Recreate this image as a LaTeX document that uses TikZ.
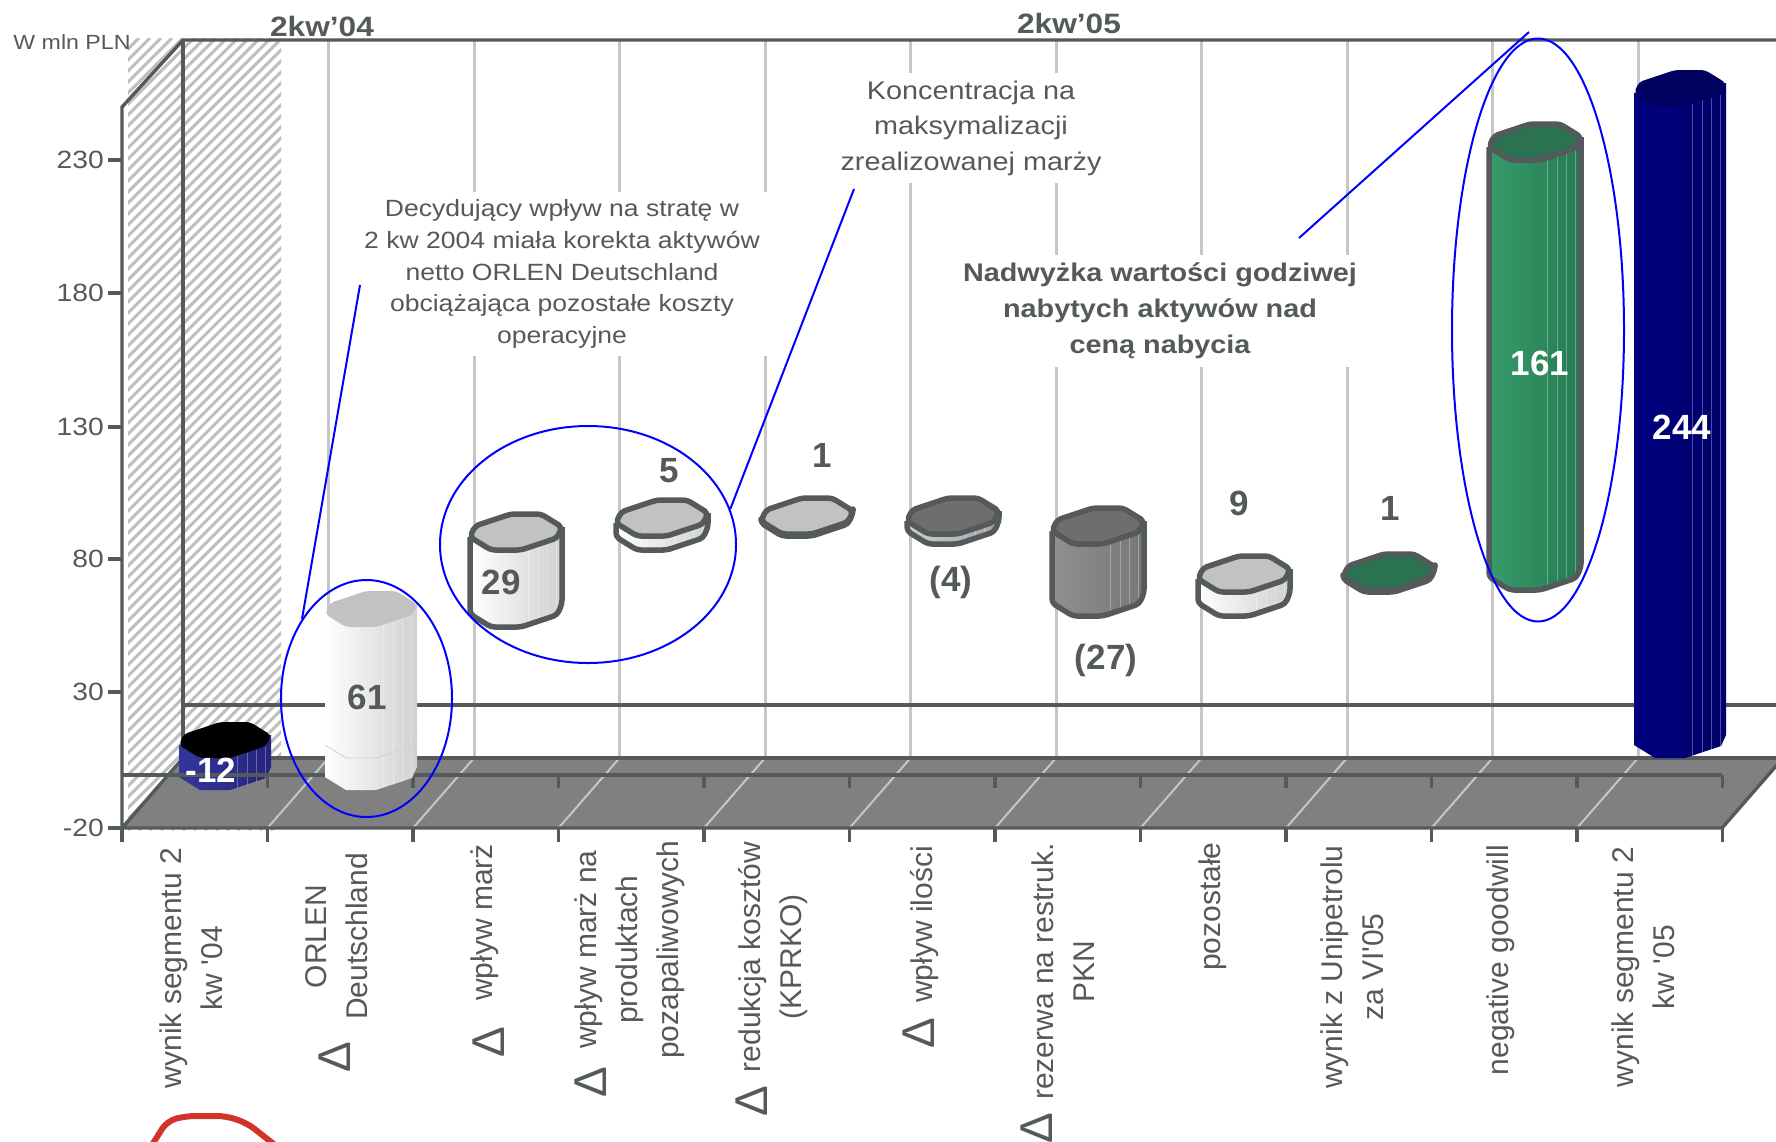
\documentclass[tikz,border=0pt]{standalone}
\usepackage{fontspec}
\setmainfont{Liberation Sans}
\newfontfamily\widefont[FakeStretch=1.13]{Liberation Sans}
\usetikzlibrary{shapes.geometric}
\usepackage{xcolor}
\definecolor{slate}{HTML}{54595C}
\definecolor{gridgray}{HTML}{C6C6C6}
\definecolor{floorgray}{HTML}{808080}
\definecolor{hatchgray}{HTML}{BEBEBE}
\definecolor{topgray}{HTML}{C2C2C2}
\definecolor{sideR}{HTML}{D0D0D0}
\definecolor{darktop}{HTML}{6E6E6E}
\definecolor{sliverL}{HTML}{CCCCCC}
\definecolor{sliverR}{HTML}{A4A4A4}
\definecolor{midgrayL}{HTML}{909090}
\definecolor{midgrayR}{HTML}{777777}
\definecolor{barblueL}{HTML}{34349C}
\definecolor{barblueR}{HTML}{25257E}
\definecolor{greenL}{HTML}{369C6A}
\definecolor{greenR}{HTML}{277A52}
\definecolor{greentop}{HTML}{2B7350}
\definecolor{navyL}{HTML}{000080}
\definecolor{navyR}{HTML}{00006A}
\definecolor{navytop}{HTML}{000060}
\definecolor{redmark}{HTML}{D0332A}

\begin{document}
\begin{tikzpicture}[x=1pt,y=-1pt,
    axisln/.style={draw=slate,line width=3.4pt},
    gridln/.style={draw=gridgray,line width=3pt},
    floorln/.style={draw=gridgray,line width=2pt},
    note/.style={fill=white,align=center,text=slate,inner sep=8pt},
    catlab/.style={rotate=90,align=center,text=slate,
      font=\fontsize{30}{41}\selectfont},
    deltalab/.style={rotate=90,text=slate,inner sep=0,
      font=\fontsize{46}{46}\selectfont},
    ylab/.style={anchor=east,text=slate,inner sep=0,
      font=\widefont\fontsize{25}{25}\selectfont},
    vallab/.style={text=slate,inner sep=0,
      font=\bfseries\fontsize{35}{35}\selectfont},
    callout/.style={draw=blue,line width=2pt}]

      \useasboundingbox (0,0) rectangle (1776,1141);
      \clip (0,0) rectangle (1776,1141);

      % hatched 2kw'04 band
      \begin{scope}
        \clip (128,38) rectangle (281,830);
        \foreach \k in {-664,-653,...,281}
          \draw[hatchgray,line width=2.9pt] (\k,830) -- ++(792,-792);
      \end{scope}

      % back wall grid
      \foreach \i in {1,...,10}
        \draw[gridln] ({183+145.5*\i},40) -- ({183+145.5*\i},758);

      % floor
      \fill[floorgray] (122,828) -- (1722,828) -- (1783,758) -- (183,758) -- cycle;
      \foreach \i in {1,...,10}
        \draw[floorln] ({122+145.5*\i},828) -- ++(61,-70);

      % walls and axes
      \draw[axisln,line join=round] (122,842) -- (122,107) -- (183,40) -- (1776,40);
      \draw[axisln] (183,40) -- (183,758) -- (1783,758);
      \draw[axisln] (122,828) -- (183,758);
      \draw[axisln] (122,828) -- (1722,828) -- (1783,758);
      \draw[axisln] (183,705) -- (1776,705);
      \draw[axisln] (122,775) -- (1722,775);
      \foreach \i in {0,...,11}
        \draw[axisln] ({122+145.5*\i},828) -- ++(0,14);
      \foreach \i in {1,...,11}
        \draw[axisln] ({122+145.5*\i},775) -- ++(0,13);
      \foreach \yy in {160,293,427,559,692,828}
        \draw[axisln] (108,\yy) -- (122,\yy);

      % y axis
      \node[text=slate,font=\widefont\fontsize{20.5}{20.5}\selectfont] (unit) at (72,42) {W mln PLN};
      \node[ylab] (y230) at (104,160) {230};
      \node[ylab] (y180) at (104,293) {180};
      \node[ylab] (y130) at (104,427) {130};
      \node[ylab] (y80) at (104,559) {80};
      \node[ylab] (y30) at (104,692) {30};
      \node[ylab] (ym20) at (104,828) {-20};

      % quarters
      \node[text=slate,font=\widefont\bfseries\fontsize{28}{28}\selectfont] (q04) at (322,26) {2kw’04};
      \node[text=slate,font=\widefont\bfseries\fontsize{28}{28}\selectfont] (q05) at (1069,23) {2kw’05};

      % notes
      \node[note,font=\widefont\fontsize{23.5}{31.7}\selectfont] (decyd) at (562,274)
      {Decydujący wpływ na stratę w\\2 kw 2004 miała korekta aktywów\\netto ORLEN Deutschland\\obciążająca pozostałe koszty\\operacyjne};
      \node[note,font=\widefont\fontsize{25.5}{35.5}\selectfont] (konc) at (971,128)
      {Koncentracja na\\maksymalizacji\\zrealizowanej marży};
      \node[note,font=\widefont\bfseries\fontsize{25.5}{36}\selectfont] (nadw) at (1160,311)
      {Nadwyżka wartości godziwej\\nabytych aktywów nad\\ceną nabycia};

      % bars
      \foreach \cx/\yt/\yb/\sl/\sr/\tc/\oc in {
          225/740/772/barblueL/barblueR/black/none,
          371/609/772/white/sideR/topgray/none,
          516/532/609/white/sideR/topgray/slate,
          662/518/532/white/sideR/topgray/slate,
          807/516/518/white/sideR/topgray/slate,
          953/516/526/sliverL/sliverR/darktop/slate,
          1098/526/598/midgrayL/midgrayR/darktop/slate,
          1244/574/598/white/sideR/topgray/slate,
          1389/572/574/greenL/greenR/greentop/slate,
          1535/142/572/greenL/greenR/greentop/slate,
          1680/88/740/navyL/navyR/navytop/none}
      {
        \shade[left color=\sl,right color=\sr] (\cx-46,\yt+5) -- (\cx-46,\yb+5)
          -- (\cx-25,\yb+18) -- (\cx+5,\yb+18) -- (\cx+41,\yb+6) -- (\cx+46,\yb-5)
          -- (\cx+46,\yt-5) -- cycle;
        \foreach \dx in {12,22,31,40}
          \draw[white,opacity=.3,line width=.8pt] ({\cx+\dx},{\yt+18-(\dx-5)*0.324})
            -- ({\cx+\dx},{\yb+18-(\dx-5)*0.324});
        \draw[draw=\oc,line width=5.5pt,line join=round,rounded corners=4pt]
          (\cx-46,\yt+5) -- (\cx-46,\yb+5) -- (\cx-25,\yb+18) -- (\cx+5,\yb+18)
          -- (\cx+41,\yb+6) -- (\cx+46,\yb-5) -- (\cx+46,\yt-5);
        \filldraw[fill=\tc,draw=\oc,line width=5.5pt,line join=round,rounded corners=4pt]
          (\cx-46,\yt+5) -- (\cx-41,\yt-6) -- (\cx-5,\yt-18) -- (\cx+25,\yt-18)
          -- (\cx+46,\yt-5) -- (\cx+41,\yt+6) -- (\cx+5,\yt+18) -- (\cx-25,\yt+18) -- cycle;
      }
      % seam at zero on the 61 bar
      \draw[black!18,line width=.8pt] (325,745) -- (346,758) -- (376,758) -- (412,746) -- (417,735);
      % axis line in front of the -12 bar
      \draw[axisln] (122,775) -- (324,775);
      \draw[axisln] (267.5,775) -- ++(0,13);

      % values
      \node[vallab,text=white] (v0) at (211,770) {-12};
      \node[vallab] (v1) at (367,697) {61};
      \node[vallab] (v2) at (501,582) {29};
      \node[vallab] (v3) at (669,471) {5};
      \node[vallab] (v4) at (822,455) {1};
      \node[vallab] (v5) at (951,582) {(4)};
      \node[vallab] (v6) at (1106,660) {(27)};
      \node[vallab] (v7) at (1239,503) {9};
      \node[vallab] (v8) at (1390,508) {1};
      \node[vallab,text=white] (v9) at (1540,363) {161};
      \node[vallab,text=white] (v10) at (1682,427) {244};

      % categories
      \node[catlab] (c0) at (191.5,968) {wynik segmentu 2\\kw \textquotesingle04};
      \node[catlab] (c1) at (336.5,936.5) {ORLEN\\Deutschland};
      \node[catlab] (c2) at (485,922.5) {wpływ marż};
      \node[catlab] (c3) at (630,949.5) {wpływ marż na\\produktach\\pozapaliwowych};
      \node[catlab] (c4) at (773.5,957) {redukcja kosztów\\(KPRKO)};
      \node[catlab] (c5) at (925,924.5) {wpływ ilości};
      \node[catlab] (c6) at (1063,971.5) {rezerwa na restruk.\\PKN};
      \node[catlab] (c7) at (1213,906.5) {pozostałe};
      \node[catlab] (c8) at (1352.5,967) {wynik z Unipetrolu\\za VI\textquotesingle05};
      \node[catlab] (c9) at (1500.5,960) {negative goodwill};
      \node[catlab] (c10) at (1643,967) {wynik segmentu 2\\kw \textquotesingle05};

      \node[deltalab] (d1) at (335,1057) {Δ};
      \node[deltalab] (d2) at (489,1042) {Δ};
      \node[deltalab] (d3) at (591,1082) {Δ};
      \node[deltalab] (d4) at (752,1101) {Δ};
      \node[deltalab] (d5) at (919,1033) {Δ};
      \node[deltalab] (d6) at (1037,1128) {Δ};

      % marks
      \node[ellipse,draw=blue,line width=2pt,inner sep=0,minimum width=171pt,minimum height=237pt] (e61) at (366.5,698.5) {};
      \node[ellipse,draw=blue,line width=2pt,inner sep=0,minimum width=296pt,minimum height=237pt] (e29) at (588,544.5) {};
      \node[ellipse,draw=blue,line width=2pt,inner sep=0,minimum width=172pt,minimum height=583pt] (e161) at (1538,330) {};

      \coordinate (a61) at (360,285);
      \coordinate (a29) at (854,189);
      \coordinate (a161) at (1299,238);
      \coordinate (b161) at (1529,32);
      \draw[callout] (a61) -- (e61.129);
      \draw[callout] (a29) -- (e29.14);
      \draw[callout] (a161) -- (b161);

      \draw[redmark,line width=6pt,rounded corners=9pt] (152,1145) -- (167,1121) -- (186,1116)
        -- (226,1116) -- (247,1123) -- (275,1145);

    \end{tikzpicture}
\end{document}
